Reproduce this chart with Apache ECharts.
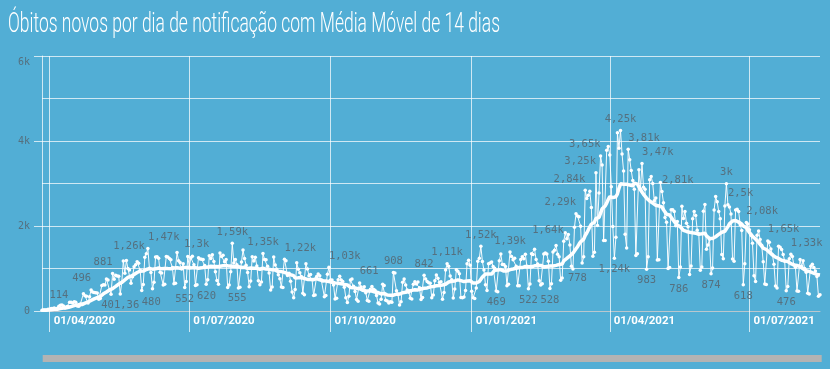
<!DOCTYPE html>
<html>
<head>
<meta charset="utf-8">
<script src="https://cdn.jsdelivr.net/npm/echarts@6/dist/echarts.min.js"></script>
<style>
html,body{margin:0;padding:0;background:#52aed5;}
#chart{width:830px;height:369px;}
</style>
</head>
<body>
<div id="chart"></div>
<script>
// ---------------- DATA ----------------
const titleText = 'Óbitos novos por dia de notificação com Média Móvel de 14 dias';
const startDate = '2020-03-27';

const deaths2020Mar = [15,22,22,23,42];
const deaths2020Apr = [40,58,60,73,54,67,114,133,141,115,68,99,105,204,204,188,217,206,115,113,166,165,407,357,346,189,338,496,449,435];
const deaths2020May = [428,421,275,296,600,615,610,751,730,496,396,881,749,844,824,816,401.36,674,1179,888,1188,1001,965,653,807,1039,1086,1156,1124,956,480];
const deaths2020Jun = [623,1262,1349,1473,1005,904,525,679,1272,1274,1239,909,892,612,627,1282,1269,1238,1206,1022,641,654,1374,1185,1141,990,1109,552,692,1280];
const deaths2020Jul = [1038,1252,1290,1091,602,620,1254,1223,1220,1214,1071,631,733,1300,1233,1322,1163,921,716,632,1367,1284,1311,1156,1211,555,614,921,1592,1129,1212];
const deaths2020Aug = [1088,541,561,1154,1437,1237,1079,905,572,703,1274,1175,1262,1060,709,620,684,1352,1212,1204,1054,892,494,565,1271,1085,984,855,758,566,553];
const deaths2020Sep = [1218,1184,834,888,701,447,310,504,1136,983,899,814,415,381,1113,987,829,858,739,363,377,809,869,831,729,708,335,363,863,1031];
const deaths2020Oct = [732,728,609,283,302,734,819,730,692,559,309,201,350,728,754,580,461,271,230,661,566,497,571,432,248,231,510,579,513,490,362];
const deaths2020Nov = [190,162,274,628,600,255,233,190,215,203,908,895,474,387,140,216,676,754,612,495,443,302,285,630,691,638,685,545,272,317];
const deaths2020Dec = [842,755,694,664,654,313,376,713,848,770,672,686,279,433,964,1111,1054,823,736,306,520,968,936,879,320,314,328,483,1111,1194,1074];
const deaths2021Jan = [462,314,293,543,1171,1242,1524,1165,962,617,480,1110,1131,1151,1050,1007,469,452,1183,1340,1096,1096,1050,592,627,1386,1283,1206,1239,1054,595];
const deaths2021Feb = [595,1210,1274,1232,1333,1051,522,636,1350,1330,1452,1209,1106,713,614,639,1340,1367,1340,1170,528,639,1386,1428,1541,1337,1275,721];
const deaths2021Mar = [778,1641,1840,1699,1800,1555,1054,987,1972,2286,2233,2216,1997,1127,1275,2841,2648,2724,2815,2438,1290,1383,3251,2009,2777,3650,3438,1656,1660,3780,3869];
const deaths2021Apr = [3673,2922,1987,1240,1738,4195,3829,4249,3693,3293,1803,1480,3808,3560,3305,3070,2865,1305,1347,3321,2866,3472,2914,2865,983,1279,3086,3163,3001,2595];
const deaths2021May = [2656,1202,1207,3025,2811,2550,2202,2091,1000,1025,2383,2383,2341,2008,2106,786,1034,2462,2179,2344,2066,1981,860,1060,2173,2340,2245,1899,1820,960,1038];
const deaths2021Jun = [2346,2507,1452,1554,1689,874,1010,2378,2693,2570,2340,2170,1328,1231,2468,2997,2502,2450,2280,1225,1172,2378,2392,2343,2032,1893,618,1112,2081,2046];
const deaths2021Jul = [1911,1785,1594,830,695,1780,1880,1680,1550,1158,636,624,1648,1620,1456,1324,1100,590,542,1524,1500,1450,1330,1170,476,578,1228,1333,1280,1080,1030];
const deaths2021Aug = [470,465,1209,1050,1183,1001,911,420,400,1054,1102,1022,942,810,350,380];

const yTicks = [0, 2000, 4000, 6000];
const xTickMonths = ['01', '04', '07', '10'];
const maWindow = 14;

// points that carry a value label: [date, placement, text alignment]
const labelledPoints = [
  ['2020-04-07','top','center'], ['2020-04-28','top','right'], ['2020-05-12','top','right'],
  ['2020-06-02','top','right'], ['2020-06-04','top','left'], ['2020-07-14','top','right'],
  ['2020-07-29','top','center'], ['2020-08-18','top','center'], ['2020-09-01','top','left'],
  ['2020-09-30','top','left'], ['2020-10-20','top','left'], ['2020-11-11','top','center'],
  ['2020-12-01','top','center'], ['2020-12-16','top','center'], ['2021-01-07','top','center'],
  ['2021-01-26','top','center'], ['2021-03-02','top','right'], ['2021-03-10','top','right'],
  ['2021-03-16','top','right'], ['2021-03-23','top','right'], ['2021-03-26','top','right'],
  ['2021-04-08','top','center'], ['2021-04-13','top','left'], ['2021-04-22','top','left'],
  ['2021-05-05','top','left'], ['2021-06-16','top','center'], ['2021-06-17','top','left'],
  ['2021-06-29','top','left'], ['2021-07-13','top','left'], ['2021-07-28','top','left'],
  ['2020-05-17','bottom','center'], ['2020-05-31','bottom','left'], ['2020-06-28','bottom','center'],
  ['2020-07-06','bottom','left'], ['2020-07-26','bottom','left'], ['2021-01-17','bottom','center'],
  ['2021-02-07','bottom','center'], ['2021-02-21','bottom','center'], ['2021-03-01','right','left'],
  ['2021-04-04','bottom','center'], ['2021-04-25','bottom','center'], ['2021-05-16','bottom','center'],
  ['2021-06-06','bottom','center'], ['2021-06-27','bottom','center'], ['2021-07-25','bottom','center']
];

// ---------------- BUILD ----------------
const daily = [].concat(deaths2020Mar, deaths2020Apr, deaths2020May, deaths2020Jun, deaths2020Jul,
  deaths2020Aug, deaths2020Sep, deaths2020Oct, deaths2020Nov, deaths2020Dec, deaths2021Jan,
  deaths2021Feb, deaths2021Mar, deaths2021Apr, deaths2021May, deaths2021Jun, deaths2021Jul, deaths2021Aug);

const sp = startDate.split('-').map(Number);
const dates = daily.map((_, i) => {
  const d = new Date(Date.UTC(sp[0], sp[1] - 1, sp[2] + i));
  return d.toISOString().slice(0, 10);
});

// 14-day moving average of the daily series
const movingAvg = daily.map((_, i) => {
  const w = daily.slice(Math.max(0, i - maWindow + 1), i + 1);
  return +(w.reduce((a, b) => a + b, 0) / w.length).toFixed(2);
});

function fmt(v) {
  if (v >= 1000) return (v / 1000).toFixed(2).replace(/\.?0+$/, '').replace('.', ',') + 'k';
  return String(v).replace('.', ',');
}

const labelMap = {};
labelledPoints.forEach(p => { labelMap[p[0]] = p; });

const dailyData = daily.map((v, i) => {
  const p = labelMap[dates[i]];
  if (!p) return v;
  return { value: v, label: { show: true, position: p[1], align: p[2] } };
});

const isQuarterStart = (idx, val) => {
  const s = typeof val === 'string' ? val : dates[idx];
  return s.slice(8, 10) === '01' && xTickMonths.indexOf(s.slice(5, 7)) >= 0;
};

// title width fitting (condensed look)
const titleFont = '300 28px Roboto';
const meas = document.createElement('canvas').getContext('2d');
meas.font = titleFont;
const titleScale = 492 / meas.measureText(titleText).width;

const gridColor = 'rgba(255,255,255,0.72)';
const greyText = '#55707f';
const yMax = yTicks[yTicks.length - 1];

const chart = echarts.init(document.getElementById('chart'), null, { renderer: 'canvas' });
chart.setOption({
  backgroundColor: '#52aed5',
  animation: false,
  graphic: [{
    type: 'text', x: 8, y: 25, scaleX: titleScale, scaleY: 1,
    style: { text: titleText, font: titleFont, fill: '#ffffff', align: 'left', verticalAlign: 'middle' }
  }],
  grid: { left: 42, right: 10, top: 56, bottom: 58 },
  xAxis: {
    type: 'category',
    data: dates,
    boundaryGap: false,
    axisLine: { show: true, lineStyle: { color: '#b9c7ce', width: 1 } },
    axisTick: { show: true, interval: isQuarterStart, length: 21, lineStyle: { color: gridColor } },
    splitLine: { show: true, interval: isQuarterStart, lineStyle: { color: gridColor, width: 1 } },
    axisLabel: {
      interval: isQuarterStart, align: 'left', margin: 4, padding: [0, 0, 0, 4],
      color: '#ffffff', fontWeight: 'bold', fontSize: 11.5, fontFamily: 'Roboto',
      formatter: v => v.slice(8, 10) + '/' + v.slice(5, 7) + '/' + v.slice(0, 4)
    }
  },
  yAxis: {
    type: 'value',
    min: yTicks[0], max: yMax, interval: yTicks[1] - yTicks[0],
    axisLine: { show: true, lineStyle: { color: gridColor, width: 1 } },
    axisTick: { show: true, length: 8, lineStyle: { color: gridColor } },
    minorTick: { show: false, splitNumber: 2 },
    splitLine: { show: true, lineStyle: { color: gridColor, width: 1 } },
    minorSplitLine: { show: true, lineStyle: { color: gridColor, width: 1 } },
    axisLabel: {
      margin: 12, color: greyText, fontFamily: 'DejaVu Sans Mono', fontSize: 10,
      formatter: v => v === yMax ? '{top|' + fmt(v) + '}' : fmt(v),
      rich: { top: { padding: [12, 0, 0, 0], color: greyText, fontFamily: 'DejaVu Sans Mono', fontSize: 10 } }
    }
  },
  dataZoom: [{
    type: 'slider', xAxisIndex: 0, start: 0, end: 100,
    left: 42, right: 9, bottom: 7, height: 7,
    showDetail: false, showDataShadow: false, brushSelect: false,
    borderColor: 'transparent', backgroundColor: 'transparent', fillerColor: '#b3b3b3',
    handleSize: 0, handleStyle: { opacity: 0 },
    moveHandleSize: 0, moveHandleStyle: { opacity: 0 },
    dataBackground: { lineStyle: { opacity: 0 }, areaStyle: { opacity: 0 } },
    selectedDataBackground: { lineStyle: { opacity: 0 }, areaStyle: { opacity: 0 } },
    emphasis: { handleStyle: { opacity: 0 }, moveHandleStyle: { opacity: 0 } }
  }],
  series: [
    {
      name: 'Óbitos novos',
      type: 'line',
      data: dailyData,
      showAllSymbol: true,
      symbol: 'circle', symbolSize: 3.5,
      itemStyle: { color: '#ffffff' },
      lineStyle: { color: 'rgba(255,255,255,0.95)', width: 1 },
      label: { show: false, formatter: p => fmt(p.value), color: greyText, fontFamily: 'DejaVu Sans Mono', fontSize: 10.5, distance: 4 },
      z: 2
    },
    {
      name: 'Média Móvel 14 dias',
      type: 'line',
      data: movingAvg,
      symbol: 'none',
      lineStyle: { color: '#ffffff', width: 3.5 },
      z: 3
    }
  ]
});
</script>
</body>
</html>
